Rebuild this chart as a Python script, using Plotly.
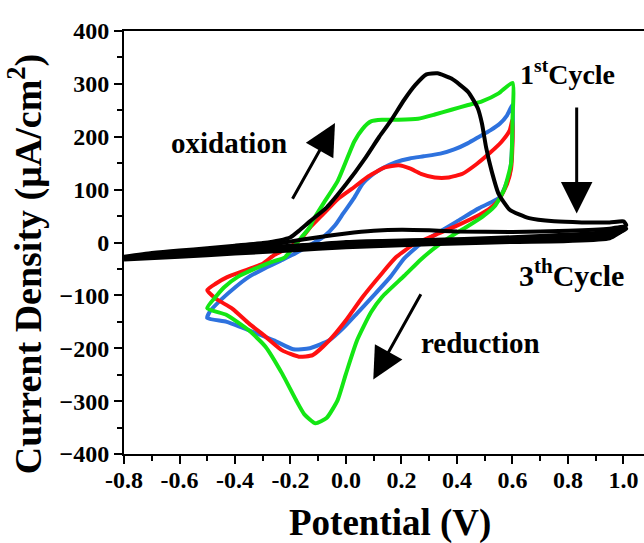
import plotly.graph_objects as go

# ---- cyclic voltammograms: potential (V) and current density (uA/cm2) ----
# coloured CVs, anodic sweep -0.5 -> 0.6 V then cathodic sweep back
red_v = [-0.50, -0.47, -0.43, -0.36, -0.30, -0.26, -0.20, -0.16, -0.13, -0.08, -0.03,
         0.03, 0.08, 0.14, 0.19, 0.23, 0.27, 0.32, 0.37, 0.42, 0.47, 0.52, 0.56, 0.59, 0.60,
         0.60, 0.595, 0.58, 0.55, 0.52, 0.48, 0.40, 0.32, 0.24, 0.18, 0.13, 0.06, 0.00,
         -0.06, -0.12, -0.17, -0.23, -0.29, -0.35, -0.41, -0.47, -0.50]
red_j = [-90, -78, -66, -52, -40, -24, -8, 8, 28, 55, 82,
         105, 125, 142, 146, 140, 130, 123, 123, 130, 148, 170, 190, 212, 232,
         185, 140, 110, 80, 65, 52, 32, 14, -5, -28, -58, -103, -147,
         -185, -213, -216, -204, -178, -153, -125, -106, -90]

blue_v = [-0.50, -0.49, -0.45, -0.40, -0.35, -0.29, -0.23, -0.18, -0.13, -0.08, -0.04,
          -0.01, 0.03, 0.06, 0.10, 0.13, 0.18, 0.23, 0.28, 0.34, 0.39, 0.44, 0.48, 0.52,
          0.555, 0.58, 0.60,
          0.60, 0.59, 0.555, 0.52, 0.48, 0.40, 0.33, 0.27, 0.21, 0.16, 0.10, 0.04, -0.01,
          -0.06, -0.13, -0.19, -0.26, -0.35, -0.43, -0.50]
blue_j = [-143, -130, -108, -85, -65, -48, -33, -20, -5, 11, 32,
          55, 85, 111, 130, 140, 152, 159, 163, 168, 176, 188, 200, 212,
          225, 240, 260,
          200, 130, 86, 75, 65, 40, 18, -2, -30, -65, -100, -134, -162,
          -185, -200, -202, -185, -166, -150, -143]

green_v = [-0.50, -0.47, -0.44, -0.39, -0.33, -0.27, -0.22, -0.19, -0.16, -0.13, -0.12,
           -0.08, -0.03, 0.03, 0.06, 0.09, 0.13, 0.19, 0.26, 0.32, 0.38, 0.44, 0.49, 0.55,
           0.60,
           0.60, 0.595, 0.57, 0.535, 0.49, 0.43, 0.38, 0.34, 0.27, 0.21, 0.13, 0.09, 0.04,
           0.00, -0.03, -0.07, -0.11, -0.15, -0.18, -0.23, -0.29, -0.35, -0.43, -0.50]
green_j = [-124, -103, -85, -65, -50, -37, -28, -9, 10, 29, 41,
           75, 116, 191, 215, 229, 232, 232, 234, 242, 251, 260, 267, 282,
           302,
           230, 150, 100, 68, 48, 28, 12, -2, -32, -63, -103, -132, -185,
           -248, -298, -332, -342, -325, -298, -248, -197, -166, -137, -124]

# black CVs, -0.8 -> 1.0 V and back
c1_v = [-0.80, -0.70, -0.60, -0.50, -0.40, -0.30, -0.24, -0.20, -0.17, -0.13, -0.07,
        0.00, 0.07, 0.12, 0.16, 0.21, 0.25, 0.29, 0.33, 0.38, 0.44, 0.475, 0.49, 0.505,
        0.525, 0.55, 0.59, 0.66, 0.75, 0.85, 0.95, 1.00, 1.01,
        0.98, 0.90, 0.80, 0.60, 0.40, 0.20, 0.00, -0.20, -0.40, -0.60, -0.80]
c1_j = [-27, -20, -15, -11, -6, -1, 4, 10, 22, 40, 66,
        110, 160, 200, 229, 270, 298, 318, 320, 310, 285, 254, 225, 180,
        135, 92, 62, 46, 40, 38, 38, 40, 33,
        24, 18, 15, 10, 6, 3, -1, -6, -13, -20, -28]

c2_v = [-0.80, -0.60, -0.40, -0.30, -0.20, -0.10, 0.00, 0.10, 0.20, 0.30, 0.40, 0.60,
        0.80, 0.95, 1.00, 1.01,
        0.95, 0.80, 0.60, 0.40, 0.20, 0.00, -0.20, -0.40, -0.60, -0.80]
c2_j = [-28, -21, -13, -7, 2, 10, 17, 22, 24, 23, 21, 20,
        22, 26, 30, 26,
        12, 8, 5, 3, -1, -5, -12, -19, -25, -30]

c3_v = [-0.80, -0.60, -0.40, -0.20, 0.00, 0.20, 0.40, 0.60, 0.80, 0.95, 1.00,
        0.95, 0.80, 0.60, 0.40, 0.20, 0.00, -0.20, -0.40, -0.60, -0.80]
c3_j = [-30, -24, -17, -8, 1, 4, 5, 7, 11, 17, 24,
        8, 3, 1, -2, -5, -9, -15, -21, -27, -32]

x_ticks = [-0.8, -0.6, -0.4, -0.2, 0.0, 0.2, 0.4, 0.6, 0.8, 1.0]
y_ticks = [-400, -300, -200, -100, 0, 100, 200, 300, 400]

FONT = "Liberation Serif"

fig = go.Figure()
curves = [
    (blue_v, blue_j, "#2e72de"),
    (red_v, red_j, "#ff1010"),
    (green_v, green_j, "#14e614"),
    (c3_v, c3_j, "#000000"),
    (c2_v, c2_j, "#000000"),
    (c1_v, c1_j, "#000000"),
]
for v, j, col in curves:
    fig.add_trace(go.Scatter(
        x=v, y=j, mode="lines",
        line=dict(color=col, width=4, shape="spline", smoothing=0.5),
        showlegend=False, hoverinfo="skip"))

fig.update_layout(
    width=644, height=543,
    margin=dict(l=124, r=0, t=31, b=89),
    paper_bgcolor="white", plot_bgcolor="white",
    font=dict(family=FONT, color="black"),
)

fig.update_xaxes(
    range=[-0.8, 1.074], tickvals=x_ticks, ticktext=[f"{t:.1f}" for t in x_ticks],
    showline=True, linecolor="black", linewidth=2, mirror=True,
    ticks="outside", ticklen=8, tickwidth=2, tickcolor="black",
    minor=dict(dtick=0.1, tick0=-0.8, ticks="outside", ticklen=5, tickwidth=2,
               tickcolor="black"),
    showgrid=False, zeroline=False, ticklabelstandoff=-5,
    tickfont=dict(family=FONT, size=24, color="black", weight="bold"),
)
fig.update_yaxes(
    range=[-400, 400], tickvals=y_ticks,
    showline=True, linecolor="black", linewidth=2, mirror=False,
    ticks="outside", ticklen=8, tickwidth=2, tickcolor="black",
    minor=dict(dtick=50, tick0=0, ticks="outside", ticklen=5, tickwidth=2,
               tickcolor="black"),
    showgrid=False, zeroline=False,
    tickfont=dict(family=FONT, size=24, color="black", weight="bold"),
)

bold = dict(family=FONT, color="black", weight="bold")

# axis titles
fig.add_annotation(text="Current Density (\u03bcA/cm<sup>2</sup>)", xref="paper", yref="paper",
                   x=(25 - 124) / 520, y=(454 - 264) / 423.3, textangle=-90,
                   xanchor="center", yanchor="middle", showarrow=False,
                   font=dict(size=38, **bold))
fig.add_annotation(text="Potential (V)", xref="paper", yref="paper",
                   x=(390 - 124) / 520, y=(454 - 523) / 423.3,
                   xanchor="center", yanchor="middle", showarrow=False,
                   font=dict(size=37, **bold))

# labels
fig.add_annotation(text="oxidation", x=-0.4234, y=189, showarrow=False,
                   xanchor="center", yanchor="middle", font=dict(size=29, **bold))
fig.add_annotation(text="reduction", x=0.483, y=-190, showarrow=False,
                   xanchor="center", yanchor="middle", font=dict(size=29, **bold))
fig.add_annotation(text="1<sup>st</sup>Cycle", x=0.80, y=322, showarrow=False,
                   xanchor="center", yanchor="middle", font=dict(size=28, **bold))
fig.add_annotation(text="3<sup>th</sup>Cycle", x=0.811, y=-58, showarrow=False,
                   xanchor="center", yanchor="middle", font=dict(size=30, **bold))

# arrows (tip at x/y, tail at ax/ay)
for tip, tail in [((-0.0396, 226), (-0.1957, 80)),
                  ((0.0984, -259), (0.2728, -95)),
                  ((0.8314, 55), (0.8314, 258))]:
    fig.add_annotation(x=tip[0], y=tip[1], ax=tail[0], ay=tail[1],
                       xref="x", yref="y", axref="x", ayref="y", text="",
                       showarrow=True, arrowhead=2, arrowsize=2.1, arrowwidth=3,
                       arrowcolor="black", standoff=0)

fig.write_html("out.html")
